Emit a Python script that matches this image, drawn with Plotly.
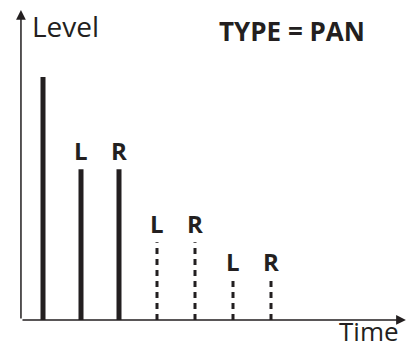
import plotly.graph_objects as go

# echo taps: time position and level
times = [1, 2, 3, 4, 5, 6, 7]
levels = [100, 62, 62, 32, 32, 16, 16]
labels = ["", "L", "R", "L", "R", "L", "R"]
dashed = [False, False, False, True, True, True, True]

ink = "#231f20"
font = "Open Sans"

fig = go.Figure()
for t, lv, lab, d in zip(times, levels, labels, dashed):
    fig.add_trace(go.Scatter(
        x=[t, t], y=[0, lv], mode="lines", showlegend=False, hoverinfo="skip",
        line=dict(color=ink, width=3 if d else 5, dash="6px,5px" if d else "solid"),
    ))
    if lab:
        fig.add_annotation(x=t, y=lv + 0.3, text="<b>" + lab + "</b>", showarrow=False,
                           yanchor="bottom", xanchor="center",
                           font=dict(family=font, size=24, color=ink))

# axes with arrow heads
fig.add_annotation(x=0.42, y=127.6, ax=0.42, ay=0, axref="x", ayref="y", text="",
                   showarrow=True, arrowhead=2, arrowsize=1.3, arrowwidth=1.5, arrowcolor=ink)
fig.add_annotation(x=10.55, y=0, ax=0.42, ay=0, axref="x", ayref="y", text="",
                   showarrow=True, arrowhead=2, arrowsize=1.3, arrowwidth=1.5, arrowcolor=ink)

fig.add_annotation(x=0.66, y=121, text="Level", showarrow=False, xanchor="left",
                   font=dict(family=font, size=28, color=ink))
fig.add_annotation(x=10.42, y=-4.6, text="Time", showarrow=False, xanchor="right",
                   font=dict(family=font, size=26, color=ink))
fig.add_annotation(x=5.58, y=118.9, text="<b>TYPE = PAN</b>", showarrow=False, xanchor="left",
                   font=dict(family=font, size=26, color=ink))

fig.update_layout(
    width=412, height=350, margin=dict(l=0, r=0, t=0, b=0),
    paper_bgcolor="white", plot_bgcolor="white",
)
fig.update_xaxes(range=[-5 / 38, 407 / 38], visible=False)
fig.update_yaxes(range=[-12.35, 131.69], visible=False)

fig.write_html("out.html", config={"displayModeBar": False},
               post_script="document.body.style.margin='0px';")
